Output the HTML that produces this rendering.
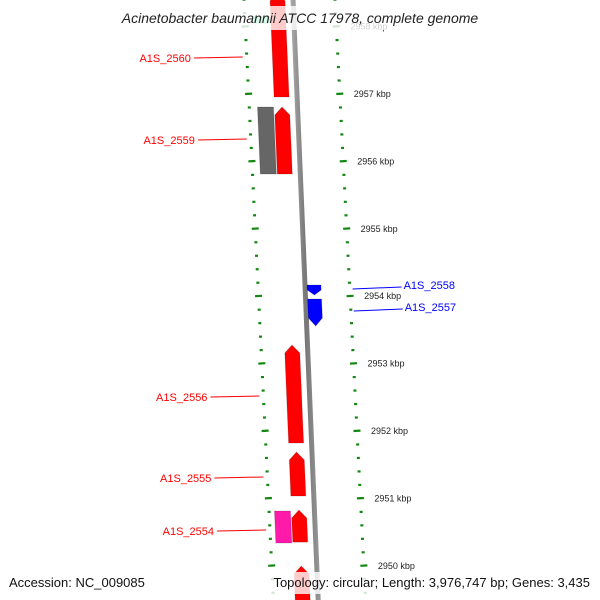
<!DOCTYPE html>
<html><head><meta charset="utf-8"><style>
body{margin:0;background:#fff}
svg{display:block;font-family:"Liberation Sans","DejaVu Sans",sans-serif}
</style></head><body>
<svg id="map" width="600" height="600" viewBox="0 0 600 600" xmlns="http://www.w3.org/2000/svg">
<defs>
<linearGradient id="bb" x1="0" x2="1"><stop offset="0" stop-color="#aaa"/><stop offset="0.5" stop-color="#777"/><stop offset="1" stop-color="#999"/></linearGradient>
</defs>
<g id="ticks"></g>
<g id="backbone"></g>
<g id="genes"></g>
<g id="labels"></g>
<rect x="95" y="6" width="410" height="24" fill="#fff" opacity="0.8"/>
<text x="300" y="23" text-anchor="middle" font-size="14" font-style="italic" fill="#222">Acinetobacter baumannii ATCC 17978, complete genome</text>
<rect x="258" y="572" width="340" height="22" fill="#fff" opacity="0.8"/>
<text x="9" y="587" font-size="13" fill="#111">Accession: NC_009085</text>
<text x="590" y="587" font-size="13" fill="#111" text-anchor="end">Topology: circular; Length: 3,976,747 bp; Genes: 3,435</text>
</svg>
<script>
const geneNames=["A1S_2561","A1S_2560","A1S_2559x","A1S_2559","A1S_2558","A1S_2557","A1S_2556","A1S_2555","A1S_2554","A1S_2554b","A1S_2553"];
const geneStart=[2958.15,2958.5,2956.807,2956.807,2954.166,2953.959,2953.276,2951.688,2950.813,2950.828,2949.997];
const geneEnd=[2958.05,2956.955,2955.813,2955.813,2954.018,2953.558,2951.822,2951.036,2950.338,2950.352,2949.4];
const geneLane=[-2,-1,-2,-1,1,1,-1,-1,-2,-1,-1];
const geneArrow=["none","up","none","up","down","down","up","up","none","up","up"];
const geneColor=["#33eeaa","#ff0000","#666666","#ff0000","#0000ff","#0000ff","#ff0000","#ff0000","#ff1aaa","#ff0000","#ff0000"];
const labelGenes=["A1S_2560","A1S_2559","A1S_2556","A1S_2555","A1S_2554"];
const labelY=[58,140,397,478,531];
const rightLabels=["A1S_2558","A1S_2557"];
const rightLabelY=[286,308];
const tickMajor=[2958,2957,2956,2955,2954,2953,2952,2951,2950];
const tickLabels=["2958 kbp","2957 kbp","2956 kbp","2955 kbp","2954 kbp","2953 kbp","2952 kbp","2951 kbp","2950 kbp"];

const NS="http://www.w3.org/2000/svg";
function yOf(k){return 94+(2957-k)*67.4;}
function bbX(y){return 293+y*0.042;}
function leftX(y){return 244+y*0.049;}
function rightX(y){return 335+y*0.051;}
function mk(tag,attrs,parent){const e=document.createElementNS(NS,tag);for(const k in attrs)e.setAttribute(k,attrs[k]);parent.appendChild(e);return e;}

const tg=document.getElementById('ticks');
for(let k=2958.6;k>=2949.3;k-=0.2){
  const kk=Math.round(k*10)/10;
  const y=yOf(kk);
  const major=Math.abs(kk-Math.round(kk))<0.01;
  const w=major?7:3;
  for(const side of [0,1]){
    const x=side?rightX(y):leftX(y);
    const t=mk('line',{x1:x-w/2,y1:y,x2:x+w/2,y2:y-(major?0.4:0),stroke:'#118811','stroke-width':2.2},tg);
    
    
  }
}
tickMajor.forEach((k,i)=>{
  const y=yOf(k);
  const t=mk('text',{x:rightX(y)+14,y:y+3,'font-size':9,fill:'#222'},tg);
  t.textContent=tickLabels[i];
  
  
});

const bg=document.getElementById('backbone');
const b=mk('polygon',{points:`${bbX(0)-2.5},0 ${bbX(0)+2.5},0 ${bbX(600)+2.5},600 ${bbX(600)-2.5},600`,fill:'url(#bb)'},bg);



const gg=document.getElementById('genes');
const laneOff={"-1":[-23,-8],"-2":[-40,-24],"1":[2,16]};
geneNames.forEach((n,i)=>{
  const y1=yOf(geneStart[i]),y2=yOf(geneEnd[i]);
  const [a,c]=laneOff[geneLane[i]];
  const x=(y,o)=>bbX(y)+o;
  let pts;
  const tip=Math.min(8,(y2-y1)/2);
  if(geneArrow[i]==='up'){
    pts=[[x(y1+tip,a),y1+tip],[x(y1,(a+c)/2),y1],[x(y1+tip,c),y1+tip],[x(y2,c),y2],[x(y2,a),y2]];
  }else if(geneArrow[i]==='down'){
    pts=[[x(y1,a),y1],[x(y1,c),y1],[x(y2-tip,c),y2-tip],[x(y2,(a+c)/2),y2],[x(y2-tip,a),y2-tip]];
  }else{
    pts=[[x(y1,a),y1],[x(y1,c),y1],[x(y2,c),y2],[x(y2,a),y2]];
  }
  const p=mk('polygon',{points:pts.map(q=>q.join(',')).join(' '),fill:geneColor[i],stroke:'rgba(0,0,0,0.15)','stroke-width':1},gg);
  
  
});

const lg=document.getElementById('labels');
labelGenes.forEach((n,i)=>{
  const y=labelY[i];
  const x2=leftX(y)-4;
  const t=mk('text',{x:x2-52,y:y+4,'font-size':11,fill:'#ff0000','text-anchor':'end'},lg);
  t.textContent=n;
  
  
  const l=mk('line',{x1:x2-49,y1:y,x2:x2,y2:y-1,stroke:'#ff0000','stroke-width':1},lg);
  
  
});
rightLabels.forEach((n,i)=>{
  const y=rightLabelY[i];
  const x1=rightX(y)+3;
  const l=mk('line',{x1:x1,y1:y+3,x2:x1+49,y2:y+1,stroke:'#0000ff','stroke-width':1},lg);
  
  
  const t=mk('text',{x:x1+51,y:y+3,'font-size':11,fill:'#0000ff'},lg);
  t.textContent=n;
  
  
});
</script>
</body></html>
